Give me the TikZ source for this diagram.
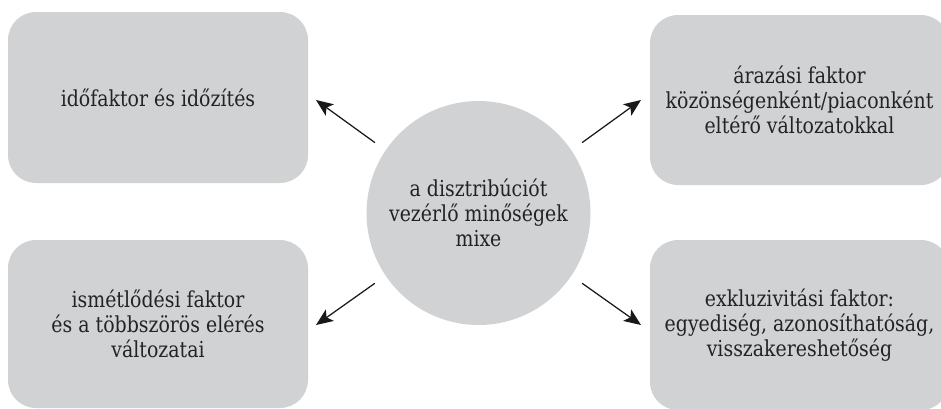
\documentclass[tikz,border=0pt]{standalone}
\usepackage{fontspec}
\setmainfont{DejaVu Serif}[FakeStretch=0.86]
\usetikzlibrary{arrows.meta}
\definecolor{panelgray}{HTML}{D1D2D4}
\definecolor{ink}{HTML}{232323}
\tikzset{
  labeltext/.style={text=ink, align=center, font=\fontsize{22}{25}\selectfont},
  panel/.style={labeltext, fill=panelgray, rounded corners=28pt,
    minimum width=300pt, minimum height=171pt, inner sep=0pt},
  hub/.style={labeltext, circle, fill=panelgray, minimum size=224pt, inner sep=0pt},
  arr/.style={-{Stealth[length=17pt,width=14pt,inset=4pt]}, line width=1.25pt,
    draw=black!90, shorten <=13pt}
}
\begin{document}
\begin{tikzpicture}[x=1pt,y=-1pt]
  \useasboundingbox (0,0) rectangle (941,408);
  \clip (0,0) rectangle (941,408);

  % four factor panels
  \node[panel] (tl) at (158,97.5) {időfaktor és időzítés};
  \node[panel, minimum width=299pt, minimum height=170pt] (tr) at (799.5,100)
    {árazási faktor\\közönségenként/piaconként\\eltérő változatokkal};
  \node[panel, minimum height=168pt] (bl) at (158,324)
    {ismétlődési faktor\\és a többszörös elérés\\változatai};
  \node[panel, minimum width=299pt, minimum height=170pt] (br) at (799.5,325)
    {exkluzivitási faktor:\\egyediség, azonosíthatóság,\\visszakereshetőség};

  % central hub
  \node[hub] (c) at (478.5,213) {a disztribúciót\\vezérlő minőségek\\mixe};

  % arrow heads stop short of the panels
  \coordinate (tlh) at (316,100);
  \coordinate (trh) at (641,100);
  \coordinate (blh) at (316,325);
  \coordinate (brh) at (641,325);

  \draw[arr] (c.146) -- (tlh);
  \draw[arr] (c.34)  -- (trh);
  \draw[arr] (c.214) -- (blh);
  \draw[arr] (c.326) -- (brh);
\end{tikzpicture}
\end{document}
